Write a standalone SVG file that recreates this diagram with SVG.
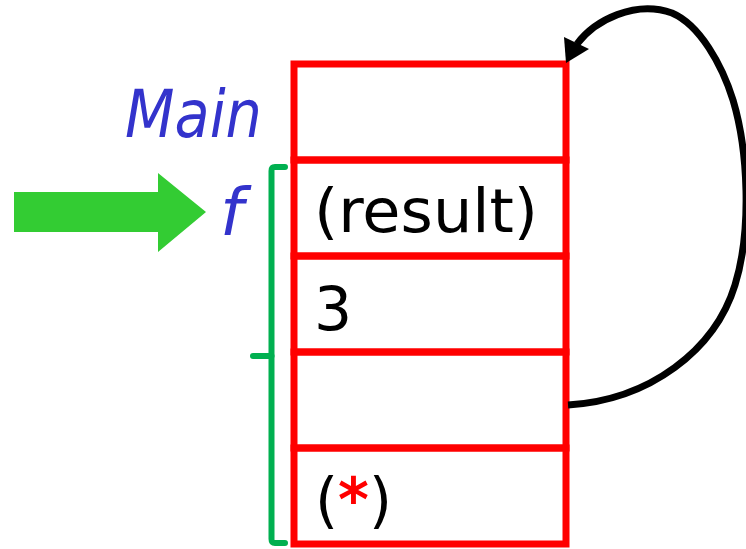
<svg xmlns="http://www.w3.org/2000/svg" width="746" height="549" viewBox="0 0 746 549">
  <style>
    .cell { fill: none; stroke: #FF0000; stroke-width: 7; }
    .lbl { font-family: "DejaVu Sans", "Liberation Sans", sans-serif; font-style: oblique; fill: #3333CC; font-size: 66px; }
    .val { font-family: "DejaVu Sans", "Liberation Sans", sans-serif; fill: #000000; font-size: 60px; }
    .conn { fill: none; stroke: #000000; stroke-width: 7; stroke-linecap: butt; }
    .brace { fill: none; stroke: #00B050; stroke-width: 6; stroke-linecap: round; stroke-linejoin: round; }
  </style>
  <rect width="746" height="549" fill="#FFFFFF"/>
  <g id="pointer-arrow">
    <polygon points="14,192 158,192 158,173 206,212 158,252 158,232 14,232" fill="#33CC33"/>
  </g>
  <g id="label-main">
    <text class="lbl" x="125" y="137" textLength="137" lengthAdjust="spacingAndGlyphs">Main</text>
  </g>
  <g id="label-f">
    <text class="lbl" x="220" y="235">f</text>
  </g>
  <g id="brace-f">
    <path class="brace" d="M 285 167 L 275 167 Q 271.5 167 271.5 171 L 271.5 539 Q 271.5 543 275 543 L 285 543"/>
    <path class="brace" d="M 253 356 L 271.5 356"/>
  </g>
  <g id="stack">
    <g id="cell-main">
      <rect class="cell" x="294" y="64" width="272" height="96"/>
    </g>
    <g id="cell-result">
      <rect class="cell" x="294" y="160" width="272" height="96"/>
      <text class="val" x="314" y="232" textLength="224" lengthAdjust="spacingAndGlyphs">(result)</text>
    </g>
    <g id="cell-3">
      <rect class="cell" x="294" y="256" width="272" height="96"/>
      <text class="val" x="314" y="330" font-size="68">3</text>
    </g>
    <g id="cell-link">
      <rect class="cell" x="294" y="352" width="272" height="96"/>
    </g>
    <g id="cell-star">
      <rect class="cell" x="294" y="448" width="272" height="96"/>
      <text class="val" x="315" y="521" textLength="77" lengthAdjust="spacingAndGlyphs">(<tspan fill="#FF0000" font-weight="bold">*</tspan>)</text>
    </g>
  </g>
  <g id="connectors">
    <path class="conn" d="M 568 405 C 650 400, 715 350, 735 285 C 752 230, 748 150, 733 100 C 722 65, 700 25, 672 13 C 635 0, 595 20, 577 44"/>
    <polygon points="566,63 564,37 589,49" fill="#000000"/>
  </g>
</svg>
